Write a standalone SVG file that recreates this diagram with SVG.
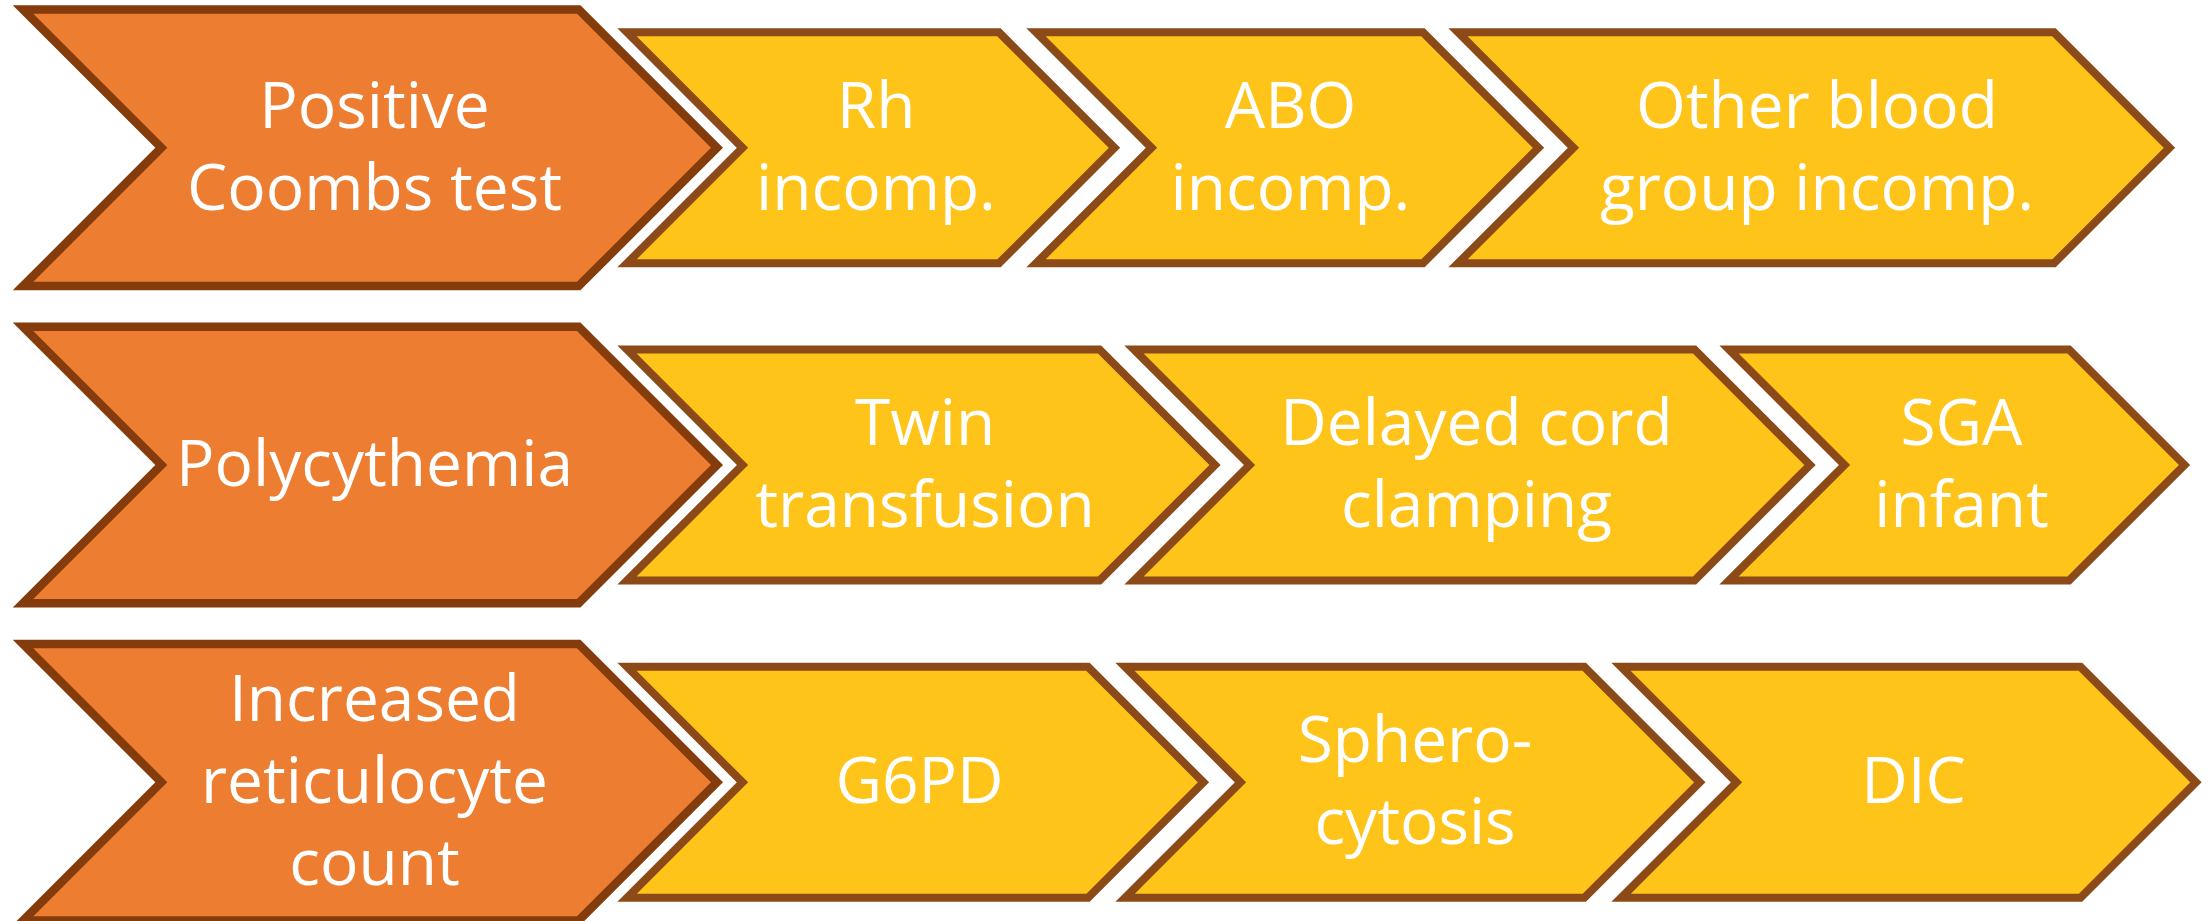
<svg xmlns="http://www.w3.org/2000/svg" width="2209" height="921" viewBox="0 0 2209 921">
<style>
.o{fill:#ED7D31;stroke:#843C0C;stroke-width:8.5;stroke-linejoin:miter}
.y{fill:#FFC419;stroke:#8C4A18;stroke-width:8;stroke-linejoin:miter}
text{font-family:'Open Sans','Liberation Sans',sans-serif;font-size:64px;fill:#FFFFFF;text-anchor:middle}
</style>
<rect width="2209" height="921" fill="#FFFFFF"/>
<g id="positive-coombs">
<polygon class="o" points="23,9.5 578.7,9.5 717,147.8 578.7,286.1 23,286.1 161.3,147.8"/>
<text x="374.5" y="127.7">Positive</text>
<text x="374.5" y="210">Coombs test</text>
</g>
<g id="rh">
<polygon class="y" points="627,32.3 999,32.3 1114.5,147.8 999,263.3 627,263.3 742.5,147.8"/>
<text x="876" y="127.7">Rh</text>
<text x="876" y="210">incomp.</text>
</g>
<g id="abo">
<polygon class="y" points="1036,32.3 1423,32.3 1538.5,147.8 1423,263.3 1036,263.3 1151.5,147.8"/>
<text x="1290.5" y="127.7">ABO</text>
<text x="1290.5" y="210">incomp.</text>
</g>
<g id="other-blood-group">
<polygon class="y" points="1458,32.3 2054,32.3 2169.5,147.8 2054,263.3 1458,263.3 1573.5,147.8"/>
<text x="1817" y="127.7">Other blood</text>
<text x="1817" y="210">group incomp.</text>
</g>
<g id="polycythemia">
<polygon class="o" points="23,326.7 578.7,326.7 717,465 578.7,603.3 23,603.3 161.3,465"/>
<text x="374.5" y="485.7">Polycythemia</text>
</g>
<g id="twin-transfusion">
<polygon class="y" points="627,349.5 1099.5,349.5 1215,465 1099.5,580.5 627,580.5 742.5,465"/>
<text x="925" y="444.8">Twin</text>
<text x="925" y="527">transfusion</text>
</g>
<g id="delayed-cord-clamping">
<polygon class="y" points="1134,349.5 1694.5,349.5 1810,465 1694.5,580.5 1134,580.5 1249.5,465"/>
<text x="1476.5" y="444.8">Delayed cord</text>
<text x="1476.5" y="527">clamping</text>
</g>
<g id="sga-infant">
<polygon class="y" points="1729,349.5 2069,349.5 2184.5,465 2069,580.5 1729,580.5 1844.5,465"/>
<text x="1961.5" y="444.8">SGA</text>
<text x="1961.5" y="527">infant</text>
</g>
<g id="increased-reticulocyte">
<polygon class="o" points="23,644 578.7,644 717,782.3 578.7,920.6 23,920.6 161.3,782.3"/>
<text x="374.5" y="721">Increased</text>
<text x="374.5" y="803">reticulocyte</text>
<text x="374.5" y="885">count</text>
</g>
<g id="g6pd">
<polygon class="y" points="627,666.8 1088,666.8 1203.5,782.3 1088,897.8 627,897.8 742.5,782.3"/>
<text x="919.5" y="803">G6PD</text>
</g>
<g id="spherocytosis">
<polygon class="y" points="1125,666.8 1584.3,666.8 1699.8,782.3 1584.3,897.8 1125,897.8 1240.5,782.3"/>
<text x="1415" y="761.7">Sphero-</text>
<text x="1415" y="844">cytosis</text>
</g>
<g id="dic">
<polygon class="y" points="1621,666.8 2080.5,666.8 2196,782.3 2080.5,897.8 1621,897.8 1736.5,782.3"/>
<text x="1913.6" y="802.5">DIC</text>
</g>
</svg>
